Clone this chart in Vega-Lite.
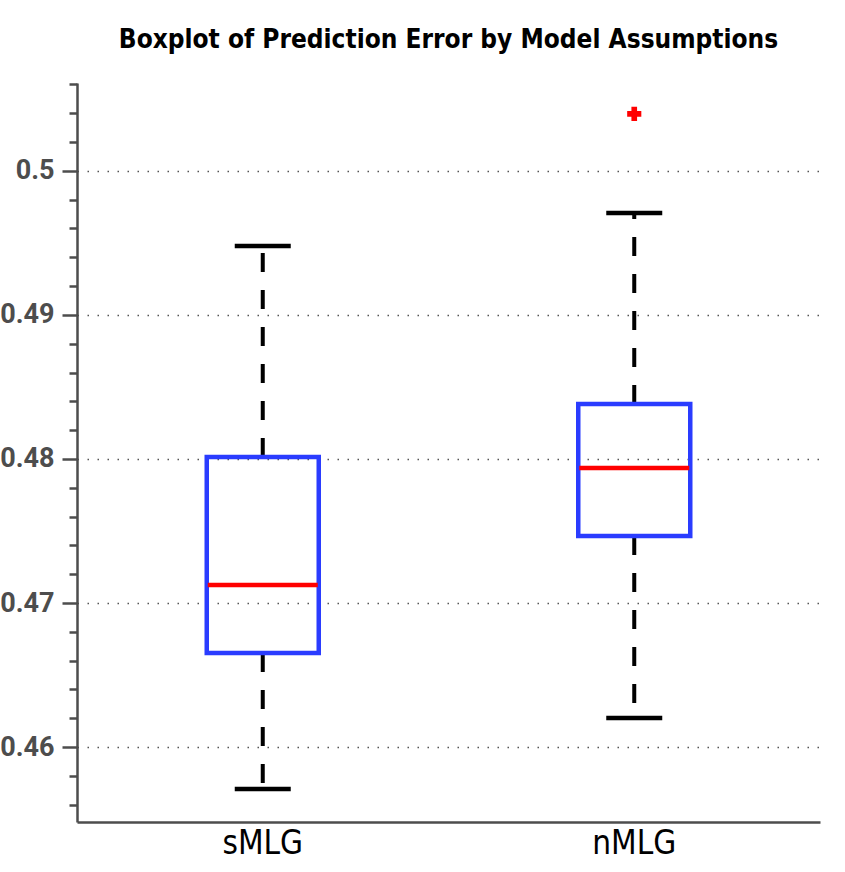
{
  "$schema": "https://vega.github.io/schema/vega-lite/v6.json",
  "description": "Boxplot of Prediction Error by Model Assumptions",
  "width": 743,
  "height": 739,
  "autosize": "none",
  "padding": {"left": 77, "top": 83, "right": 25, "bottom": 50},
  "background": "white",
  "title": {
    "text": "Boxplot of Prediction Error by Model Assumptions",
    "font": "DejaVu Sans Condensed, sans-serif",
    "fontSize": 26,
    "fontWeight": "bold",
    "color": "black",
    "anchor": "middle",
    "offset": 17
  },
  "datasets": {
    "boxes": [
      {"model": "sMLG", "lower": 0.457083, "q1": 0.466528, "median": 0.47125, "q3": 0.480139, "upper": 0.494792},
      {"model": "nMLG", "lower": 0.462014, "q1": 0.474653, "median": 0.479375, "q3": 0.483819, "upper": 0.497083}
    ],
    "outliers": [
      {"model": "nMLG", "value": 0.503958}
    ]
  },
  "data": {"name": "boxes"},
  "encoding": {
    "x": {
      "field": "model",
      "type": "nominal",
      "sort": ["sMLG", "nMLG"],
      "scale": {"paddingInner": 0, "paddingOuter": 0},
      "axis": {
        "title": null,
        "ticks": false,
        "grid": false,
        "labelAngle": 0,
        "labelFont": "DejaVu Sans Condensed, sans-serif",
        "labelFontSize": 33,
        "labelFontWeight": "normal",
        "labelColor": "black",
        "labelPadding": 5,
        "domainColor": "#4d4d4d",
        "domainWidth": 2.5
      }
    }
  },
  "layer": [
    {
      "mark": {"type": "rule", "color": "black", "strokeWidth": 4, "strokeDash": [19, 18]},
      "encoding": {
        "y": {
          "field": "q3",
          "type": "quantitative",
          "scale": {"domain": [0.4548, 0.5061], "nice": false, "zero": false},
          "axis": {
            "title": null,
            "values": [0.456, 0.458, 0.46, 0.462, 0.464, 0.466, 0.468, 0.47, 0.472, 0.474, 0.476, 0.478, 0.48, 0.482, 0.484, 0.486, 0.488, 0.49, 0.492, 0.494, 0.496, 0.498, 0.5, 0.502, 0.504, 0.506],
            "tickCount": 40,
            "labelExpr": "abs(datum.value * 100 - round(datum.value * 100)) < 0.001 ? format(datum.value, '~g') : ''",
            "labelOverlap": false,
            "labelBound": false,
            "labelFont": "Roboto, sans-serif",
            "labelFontSize": 27,
            "labelFontWeight": "bold",
            "labelColor": "#4d4d4d",
            "labelPadding": 8,
            "tickColor": "#4d4d4d",
            "tickWidth": 2.5,
            "tickSize": {"condition": {"test": "abs(datum.value * 100 - round(datum.value * 100)) < 0.001", "value": 15}, "value": 8},
            "domainColor": "#4d4d4d",
            "domainWidth": 2.5,
            "grid": true,
            "gridColor": "#555555",
            "gridWidth": 1.3,
            "gridDash": [1.5, 8.5],
            "gridOpacity": {"condition": {"test": "abs(datum.value * 100 - round(datum.value * 100)) < 0.001", "value": 1}, "value": 0}
          }
        },
        "y2": {"field": "upper"}
      }
    },
    {
      "mark": {"type": "rule", "color": "black", "strokeWidth": 4, "strokeDash": [19, 18]},
      "encoding": {
        "y": {"field": "q1", "type": "quantitative"},
        "y2": {"field": "lower"}
      }
    },
    {
      "mark": {"type": "tick", "color": "black", "size": 56, "thickness": 4.5, "opacity": 1},
      "encoding": {"y": {"field": "upper", "type": "quantitative"}}
    },
    {
      "mark": {"type": "tick", "color": "black", "size": 56, "thickness": 4.5, "opacity": 1},
      "encoding": {"y": {"field": "lower", "type": "quantitative"}}
    },
    {
      "mark": {"type": "bar", "filled": false, "color": "#2a3cff", "strokeWidth": 4.5, "size": 112, "opacity": 1},
      "encoding": {
        "y": {"field": "q1", "type": "quantitative"},
        "y2": {"field": "q3"}
      }
    },
    {
      "mark": {"type": "tick", "color": "#ff0000", "size": 110, "thickness": 4.5, "opacity": 1},
      "encoding": {"y": {"field": "median", "type": "quantitative"}}
    },
    {
      "data": {"name": "outliers"},
      "mark": {"type": "point", "shape": "cross", "filled": true, "color": "#ff0000", "size": 200, "opacity": 1},
      "encoding": {"y": {"field": "value", "type": "quantitative"}}
    }
  ],
  "config": {
    "view": {"stroke": null}
  }
}
